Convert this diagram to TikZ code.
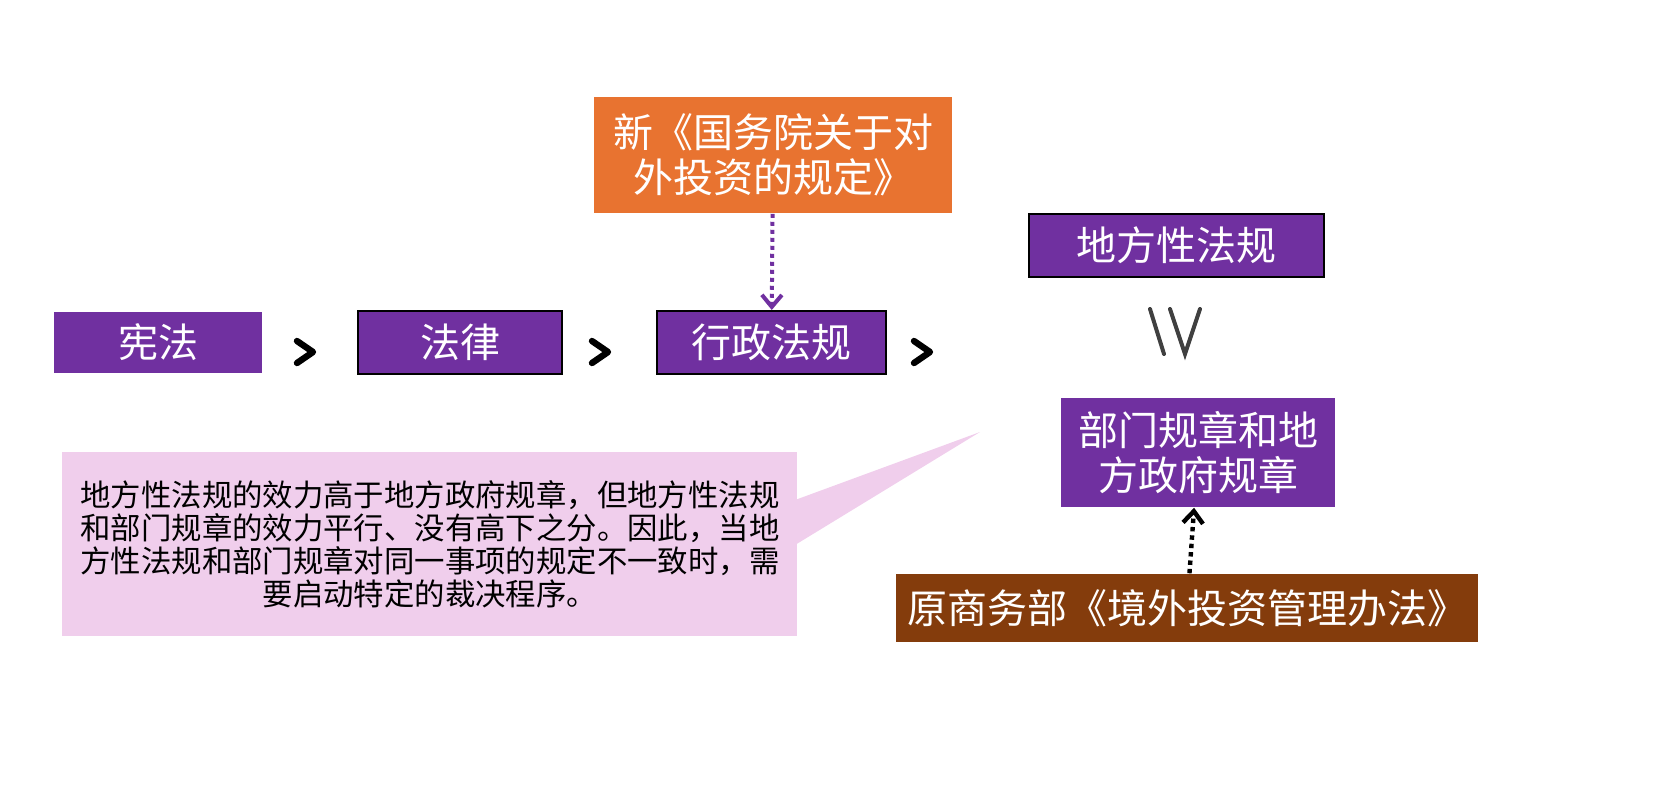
\documentclass[tikz,border=0pt]{standalone}
\usepackage{fontspec}
\setmainfont{Noto Sans CJK SC}
\usetikzlibrary{arrows.meta}
\definecolor{lawpurple}{RGB}{112,48,160}
\definecolor{neworange}{RGB}{232,115,48}
\definecolor{oldbrown}{RGB}{132,60,12}
\definecolor{notepink}{RGB}{240,206,236}
\tikzset{
	law/.style={fill=lawpurple, text=white, font=\fontsize{20}{22.5}\selectfont, inner sep=0pt, align=center},
	framed/.style={law, draw=black, line width=1pt},
	gt/.style={line width=3.2pt, line cap=round, line join=round},
	every picture/.style={line width=0.75pt}}

\begin{document}
\begin{tikzpicture}[x=0.5pt,y=0.5pt,yscale=-1,xscale=1]
	\useasboundingbox (0,0) rectangle (1676,784);

	% main chain
	\node [law, minimum width=104pt, minimum height=30.5pt] (xianfa) at (158,342.5) {宪法};
	\node [framed, minimum width=102pt, minimum height=31.5pt] (falv) at (460,342.5) {法律};
	\node [framed, minimum width=114.5pt, minimum height=31.5pt] (xingzheng) at (771.5,342.5) {行政法规};

	% greater-than signs
	\foreach \x in {305,600,922}
		\draw [gt] (\x-8,341) -- (\x+8,352) -- (\x-8,363);

	% right column
	\node [framed, minimum width=147.5pt, minimum height=31.5pt] (difang) at (1176.5,245.5) {地方性法规};
	\node [law, minimum width=137pt, minimum height=54.5pt] (bumen) at (1198,452.5) {部门规章和地\\方政府规章};
	\draw [black!75, line width=2pt, line cap=round] (1150,309) -- (1164,354) (1170,309) -- (1185,354) -- (1200,309);

	% sources
	\node [law, fill=neworange, minimum width=179pt, minimum height=58pt] (xin) at (773,155) {新《国务院关于对\\外投资的规定》};
	\node [law, fill=oldbrown, minimum width=291pt, minimum height=34pt] (yuan) at (1187,608) {原商务部《境外投资管理办法》};
	\draw [lawpurple, line width=2pt, dotted, -{Straight Barb[length=6pt,width=10pt]}] (xin) -- (xingzheng);
	\draw [black, line width=2.2pt, dotted, -{Straight Barb[length=6pt,width=10pt]}] (yuan) -- (bumen);

	% callout
	\fill [notepink] (62,452) rectangle (797,636);
	\fill [notepink] (795,500) -- (980,432) -- (795,545) -- cycle;
	\node [text=black, font=\fontsize{15.2}{16.5}\selectfont, align=center] (note) at (430,544) {地方性法规的效力高于地方政府规章，但地方性法规\\和部门规章的效力平行、没有高下之分。因此，当地\\方性法规和部门规章对同一事项的规定不一致时，需\\要启动特定的裁决程序。};
\end{tikzpicture}
\end{document}
